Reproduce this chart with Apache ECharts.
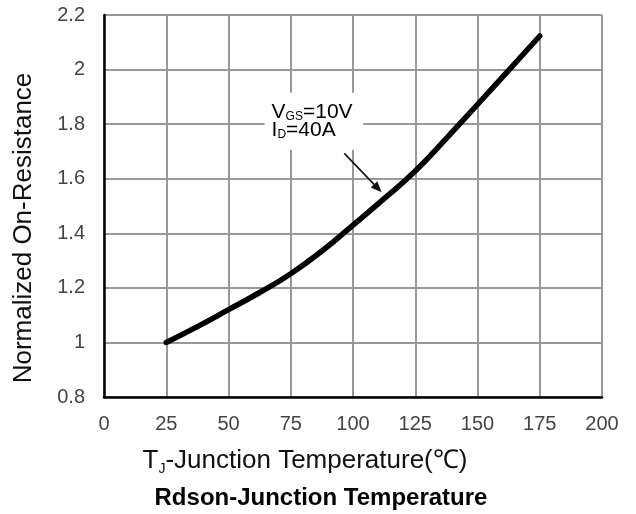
<!DOCTYPE html>
<html><head><meta charset="utf-8">
<script src="https://cdn.jsdelivr.net/npm/echarts@6/dist/echarts.min.js"></script>
<style>html,body{margin:0;padding:0;background:#fff}#c{width:636px;height:514px}</style>
</head><body><div id="c"></div>
<script>
var temps = [25, 37.5, 50, 62.5, 75, 87.5, 100, 112.5, 125, 137.5, 150, 162.5, 175];
var rdson = [1.00, 1.058, 1.12, 1.183, 1.252, 1.335, 1.43, 1.527, 1.628, 1.748, 1.872, 1.997, 2.123];
var xTicks = [0, 25, 50, 75, 100, 125, 150, 175, 200];
var yTicks = [0.8, 1, 1.2, 1.4, 1.6, 1.8, 2, 2.2];
var noteBox = [[64.5, 1.915], [104.1, 1.706]];
var arrowFrom = [96.5, 1.693];
var arrowTo = [111.5, 1.55];

var font = '"Liberation Sans", Arial, sans-serif';
var chart = echarts.init(document.getElementById('c'));
var pts = temps.map(function (t, i) { return [t, rdson[i]]; });

chart.setOption({
  animation: false,
  backgroundColor: '#fff',
  grid: { left: 104, right: 34, top: 15, bottom: 117 },
  title: [
    { text: '{n|T}{s|J}{n|-Junction Temperature(℃)}', left: 300, top: 441, textAlign: 'center',
      textStyle: { rich: {
        n: { fontFamily: font, fontSize: 26, color: '#111', fontWeight: 'normal', lineHeight: 30 },
        s: { fontFamily: font, fontSize: 14, color: '#111', fontWeight: 'normal', lineHeight: 30, verticalAlign: 'bottom', padding: [11, 0, 0, 0] }
      } } },
    { text: 'Rdson-Junction Temperature', left: 316, top: 481, textAlign: 'center',
      textStyle: { fontFamily: font, fontSize: 24, fontWeight: 'bold', color: '#000' } }
  ],
  xAxis: {
    type: 'value', min: xTicks[0], max: xTicks[xTicks.length - 1], interval: 25,
    axisLine: { show: true, lineStyle: { color: '#000', width: 2.5 } },
    axisTick: { show: false },
    axisLabel: { margin: 17, fontFamily: font, fontSize: 20, color: '#444' },
    splitLine: { show: true, lineStyle: { color: '#999', width: 2 } }
  },
  yAxis: {
    type: 'value', min: yTicks[0], max: yTicks[yTicks.length - 1], interval: 0.2,
    axisLine: { show: true, lineStyle: { color: '#000', width: 2.5 } },
    axisTick: { show: false },
    axisLabel: { margin: 19, fontFamily: font, fontSize: 20, color: '#444',
      formatter: function (v) { return String(Math.round(v * 10) / 10); } },
    splitLine: { show: true, lineStyle: { color: '#999', width: 2 } }
  },
  series: [{
    type: 'line', data: pts, smooth: 0.5, showSymbol: false, symbol: 'none',
    lineStyle: { color: '#000', width: 5.5, cap: 'round' }, z: 5
  }]
});

function px(p) { return chart.convertToPixel({ gridIndex: 0 }, p); }
var b0 = px(noteBox[0]), b1 = px(noteBox[1]);
var a0 = px(arrowFrom), a1 = px(arrowTo);
var ang = Math.atan2(a1[1] - a0[1], a1[0] - a0[0]);
var hl = 11, hw = 4.5;
var tip = a1;
var base = [tip[0] - hl * Math.cos(ang), tip[1] - hl * Math.sin(ang)];
var head = [
  tip,
  [base[0] + hw * Math.sin(ang), base[1] - hw * Math.cos(ang)],
  [base[0] - hw * Math.sin(ang), base[1] + hw * Math.cos(ang)]
];
var rich = {
  n: { fontFamily: font, fontSize: 21, color: '#333' },
  s: { fontFamily: font, fontSize: 12, color: '#333', verticalAlign: 'bottom', padding: [9, 0, 0, 0] }
};
chart.setOption({
  graphic: [
    { type: 'text', x: 24, y: 228, rotation: Math.PI / 2, z: 11,
      style: { text: 'Normalized On-Resistance', fontFamily: font, fontSize: 26, fill: '#111',
        align: 'center', verticalAlign: 'middle' } },
    { type: 'rect', shape: { x: b0[0], y: b0[1], width: b1[0] - b0[0], height: b1[1] - b0[1] },
      style: { fill: '#fff' }, z: 10 },
    { type: 'text', x: b0[0] + 7, y: b0[1] + 9, z: 11,
      style: { text: '{n|V}{s|GS}{n|=10V}', rich: rich } },
    { type: 'text', x: b0[0] + 7, y: b0[1] + 27, z: 11,
      style: { text: '{n|I}{s|D}{n|=40A}', rich: rich } },
    { type: 'line', shape: { x1: a0[0], y1: a0[1], x2: base[0], y2: base[1] },
      style: { stroke: '#111', lineWidth: 1.6 }, z: 11 },
    { type: 'polygon', shape: { points: head }, style: { fill: '#111' }, z: 11 }
  ]
});
</script></body></html>
